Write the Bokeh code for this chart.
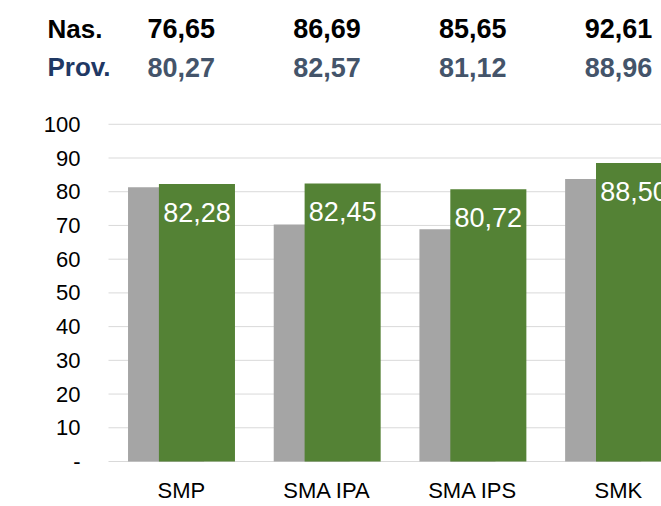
from bokeh.plotting import figure
from bokeh.models import Range1d, FixedTicker, ColumnDataSource
from bokeh.transform import dodge
from bokeh.core.properties import value
from bokeh.embed import file_html
from bokeh.resources import INLINE

# ---- data ----
categories = ["SMP", "SMA IPA", "SMA IPS", "SMK"]
gray_values = [81.3, 70.3, 68.9, 83.8]
green_values = [82.28, 82.45, 80.72, 88.50]
nas_values = [76.65, 86.69, 85.65, 92.61]
prov_values = [80.27, 82.57, 81.12, 88.96]
y_ticks = [0, 10, 20, 30, 40, 50, 60, 70, 80, 90, 100]
row_labels = ["Nas.", "Prov."]


def fmt(v):
    return f"{v:.2f}".replace(".", ",")


xc = [i + 0.5 for i in range(len(categories))]
src = ColumnDataSource(dict(
    x=xc,
    gray=gray_values,
    green=green_values,
    glab=[fmt(v) for v in green_values],
    nas=[fmt(v) for v in nas_values],
    prov=[fmt(v) for v in prov_values],
))

FONT = "Liberation Sans"
GRID = "#D9D9D9"
NAS_Y = 128.4
PROV_Y = 116.9

p = figure(width=661, height=506, output_backend="svg", toolbar_location=None,
           x_range=Range1d(-0.7413, 3.7955), y_range=Range1d(-2.966, 136.71),
           min_border_left=0, min_border_right=0, min_border_top=0,
           min_border_bottom=35)
p.outline_line_color = None
p.background_fill_color = "white"
p.border_fill_color = "white"

# gridlines spanning only the category area
p.segment(x0=0, x1=len(categories), y0=y_ticks, y1=y_ticks,
          line_color=GRID, line_width=1)

p.vbar(x=dodge("x", -0.105, range=p.x_range), top="gray", width=0.522,
       fill_color="#A5A5A5", line_color=None, source=src)
p.vbar(x=dodge("x", 0.107, range=p.x_range), top="green", width=0.522,
       fill_color="#548235", line_color=None, source=src)
p.text(x=dodge("x", 0.107, range=p.x_range), y="green", text="glab",
       text_align="center", text_baseline="alphabetic", y_offset=28,
       text_color="white", text_font=value(FONT), text_font_size="27px",
       source=src)

# header rows
p.text(x="x", y=NAS_Y, text="nas", text_align="center",
       text_baseline="alphabetic", text_color="#000000",
       text_font=value(FONT), text_font_size="27px", text_font_style="bold",
       source=src)
p.text(x="x", y=PROV_Y, text="prov", text_align="center",
       text_baseline="alphabetic", text_color="#44546A",
       text_font=value(FONT), text_font_size="27px", text_font_style="bold",
       source=src)
p.text(x=-0.4187, y=[NAS_Y, PROV_Y], text=row_labels, text_align="left",
       text_baseline="alphabetic", text_color=["#000000", "#1F3864"],
       text_font=value(FONT), text_font_size="26px", text_font_style="bold")

# axes
p.xaxis.ticker = FixedTicker(ticks=xc)
p.xaxis.major_label_overrides = {x: c for x, c in zip(xc, categories)}
p.xaxis.axis_line_color = None
p.xaxis.major_tick_line_color = None
p.xaxis.minor_tick_line_color = None
p.xaxis.major_tick_out = 0
p.xaxis.major_tick_in = 0
p.xaxis.major_label_standoff = 6
p.xaxis.major_label_text_font = FONT
p.xaxis.major_label_text_font_size = "22px"
p.xaxis.major_label_text_color = "#000000"

p.yaxis.fixed_location = 0
p.yaxis.ticker = FixedTicker(ticks=y_ticks)
p.yaxis.major_label_overrides = {0: "-"}
p.yaxis.axis_line_color = None
p.yaxis.major_tick_line_color = None
p.yaxis.minor_tick_line_color = None
p.yaxis.major_tick_out = 0
p.yaxis.major_tick_in = 0
p.yaxis.major_label_standoff = 28
p.yaxis.major_label_text_font = FONT
p.yaxis.major_label_text_font_size = "22px"
p.yaxis.major_label_text_color = "#000000"

p.xgrid.grid_line_color = None
p.ygrid.grid_line_color = None

open("out.html", "w").write(file_html(p, INLINE))
